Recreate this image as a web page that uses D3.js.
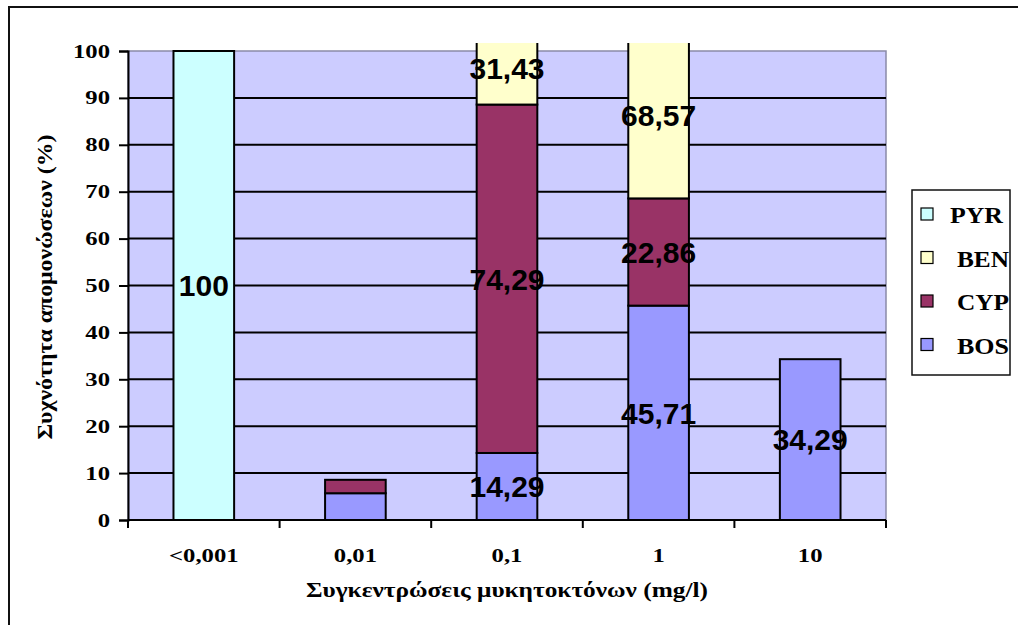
<!DOCTYPE html>
<html>
<head>
<meta charset="utf-8">
<script src="https://cdn.jsdelivr.net/npm/d3@7"></script>
<style>
  body { margin: 0; background: #fff; }
  svg { display: block; }
</style>
</head>
<body>
<div id="chart"></div>
<script>
// categories and series values (%)
const categories = ["<0,001", "0,01", "0,1", "1", "10"];
const BOS = [0, 5.71, 14.29, 45.71, 34.29];
const CYP = [0, 2.86, 74.29, 22.86, 0];
const BEN = [0, 0, 31.43, 68.57, 0];
const PYR = [100, 0, 0, 0, 0];
const showLabels = [true, false, true, true, true];
const yTicks = [0, 10, 20, 30, 40, 50, 60, 70, 80, 90, 100];
const legendKeys = ["PYR", "BEN", "CYP", "BOS"];

const series = { BOS: BOS, CYP: CYP, BEN: BEN, PYR: PYR };
const stackKeys = ["BOS", "CYP", "BEN", "PYR"];
const color = d3.scaleOrdinal()
                .domain(stackKeys)
                .range(["#9999ff", "#993366", "#ffffcc", "#ccffff"]);

const W = 1018, H = 625;
const plotLeft = 128, plotRight = 886, plotTop = 51, plotBottom = 520;

// widen text horizontally, the way the original chart looks stretched
function stretch(sel, k) {
  sel.each(function() {
    const w = this.getComputedTextLength();
    d3.select(this)
      .attr("textLength", w * k)
      .attr("lengthAdjust", "spacingAndGlyphs");
  });
}

const svg = d3.select("#chart")
              .append("svg")
                .attr("width", W)
                .attr("height", H);

// outer frame (runs off the right and bottom edge)
svg.append("path")
   .attr("d", `M9,${H + 5}V7H${W + 5}`)
   .attr("fill", "none")
   .attr("stroke", "#111")
   .attr("stroke-width", 2);

const table = categories.map((c, i) => {
  const row = { cat: c, show: showLabels[i] };
  stackKeys.forEach(k => row[k] = series[k][i]);
  return row;
});

const x = d3.scaleBand()
            .domain(categories)
            .range([plotLeft, plotRight])
            .paddingInner(0.6)
            .paddingOuter(0.3);

const y = d3.scaleLinear()
            .domain([0, 100])
            .range([plotBottom, plotTop]);

// plot area background
svg.append("rect")
   .attr("x", plotLeft).attr("y", plotTop)
   .attr("width", plotRight - plotLeft).attr("height", plotBottom - plotTop)
   .attr("fill", "#ccccff")
   .attr("stroke", "#8a8aa8")
   .attr("stroke-width", 1.5);

// gridlines
svg.append("g")
   .selectAll("line")
   .data(yTicks.filter(t => t > 0 && t < 100))
   .join("line")
     .attr("x1", plotLeft).attr("x2", plotRight)
     .attr("y1", d => y(d)).attr("y2", d => y(d))
     .attr("stroke", "#000")
     .attr("stroke-width", 2);

// bars overflow the plot a little above 100, then get cut
svg.append("clipPath")
   .attr("id", "clip")
   .append("rect")
     .attr("x", 0).attr("y", plotTop - 8)
     .attr("width", W).attr("height", plotBottom - plotTop + 8);

const stacked = d3.stack().keys(stackKeys)(table);

svg.append("g")
   .attr("clip-path", "url(#clip)")
   .selectAll("g")
   .data(stacked)
   .join("g")
     .attr("fill", d => color(d.key))
     .selectAll("rect")
     .data(d => d.filter(s => s[1] - s[0] > 0))
     .join("rect")
       .attr("x", d => x(d.data.cat))
       .attr("y", d => y(d[1]))
       .attr("width", x.bandwidth())
       .attr("height", d => y(d[0]) - y(d[1]))
       .attr("stroke", "#000")
       .attr("stroke-width", 2);

// value labels (centre of the visible part of each segment)
const labelCap = 104;
const labels = [];
stacked.forEach(layer => {
  layer.forEach(s => {
    const v = s[1] - s[0];
    if (v > 0 && s.data.show) {
      labels.push({ cat: s.data.cat, v: v, mid: (s[0] + Math.min(s[1], labelCap)) / 2 });
    }
  });
});

svg.append("g")
   .selectAll("text")
   .data(labels)
   .join("text")
     .attr("x", d => x(d.cat) + x.bandwidth() / 2)
     .attr("y", d => y(d.mid))
     .attr("dy", "0.36em")
     .attr("text-anchor", "middle")
     .style("font-family", "'Liberation Sans', Arial, sans-serif")
     .style("font-weight", "bold")
     .style("font-size", "30px")
     .text(d => d.v === 100 ? "100" : d3.format(".2f")(d.v).replace(".", ","));

const serif = "'Liberation Serif', 'Times New Roman', serif";

// y axis
const yAxis = svg.append("g")
   .attr("transform", `translate(${plotLeft},0)`)
   .call(d3.axisLeft(y).tickValues(yTicks).tickSize(9).tickPadding(9).tickFormat(d3.format("d")));
yAxis.select(".domain").attr("stroke", "#000").attr("stroke-width", 2);
yAxis.selectAll(".tick line").attr("stroke", "#000").attr("stroke-width", 2);
yAxis.selectAll("text")
     .style("font-family", serif)
     .style("font-weight", "bold")
     .style("font-size", "19px")
     .attr("fill", "#000")
     .call(stretch, 1.3);

// x axis: ticks between categories
const xAxisG = svg.append("g");
xAxisG.append("line")
      .attr("x1", plotLeft).attr("x2", plotRight)
      .attr("y1", plotBottom).attr("y2", plotBottom)
      .attr("stroke", "#000").attr("stroke-width", 2);
const bounds = categories.map(c => x(c) - x.step() * x.paddingInner() / 2).concat([plotRight]);
xAxisG.selectAll(".xt")
      .data(bounds)
      .join("line")
        .attr("class", "xt")
        .attr("x1", d => d).attr("x2", d => d)
        .attr("y1", plotBottom).attr("y2", plotBottom + 8)
        .attr("stroke", "#000").attr("stroke-width", 2);
xAxisG.selectAll(".xl")
      .data(categories)
      .join("text")
        .attr("class", "xl")
        .attr("x", d => x(d) + x.bandwidth() / 2)
        .attr("y", 562)
        .attr("text-anchor", "middle")
        .style("font-family", serif)
        .style("font-weight", "bold")
        .style("font-size", "19px")
        .text(d => d)
        .call(stretch, 1.3);

// axis titles
svg.append("text")
   .attr("x", 507).attr("y", 597)
   .attr("text-anchor", "middle")
   .attr("textLength", 402)
   .attr("lengthAdjust", "spacingAndGlyphs")
   .style("font-family", serif)
   .style("font-weight", "bold")
   .style("font-size", "20px")
   .text("Συγκεντρώσεις μυκητοκτόνων (mg/l)");

svg.append("text")
   .attr("transform", "translate(52,287) rotate(-90)")
   .attr("text-anchor", "middle")
   .attr("textLength", 305)
   .attr("lengthAdjust", "spacingAndGlyphs")
   .style("font-family", serif)
   .style("font-weight", "bold")
   .style("font-size", "20px")
   .text("Συχνότητα απομονώσεων (%)");

// legend
const legend = svg.append("g");
legend.append("rect")
      .attr("x", 912).attr("y", 190)
      .attr("width", 98).attr("height", 185)
      .attr("fill", "#fff")
      .attr("stroke", "#111")
      .attr("stroke-width", 1.5);
const items = legend.selectAll(".item")
      .data(legendKeys)
      .join("g")
        .attr("class", "item")
        .attr("transform", (d, i) => `translate(921,${214 + i * 43.5})`);
items.append("rect")
     .attr("x", 0).attr("y", -6)
     .attr("width", 12).attr("height", 12)
     .attr("fill", d => color(d))
     .attr("stroke", "#000")
     .attr("stroke-width", 1.2);
items.append("text")
     .attr("x", d => d === "PYR" ? 29 : 36)
     .attr("y", 1)
     .attr("dy", "0.35em")
     .attr("textLength", d => d === "PYR" ? 53 : 52)
     .attr("lengthAdjust", "spacingAndGlyphs")
     .style("font-family", serif)
     .style("font-weight", "bold")
     .style("font-size", "24px")
     .text(d => d);
</script>
</body>
</html>
